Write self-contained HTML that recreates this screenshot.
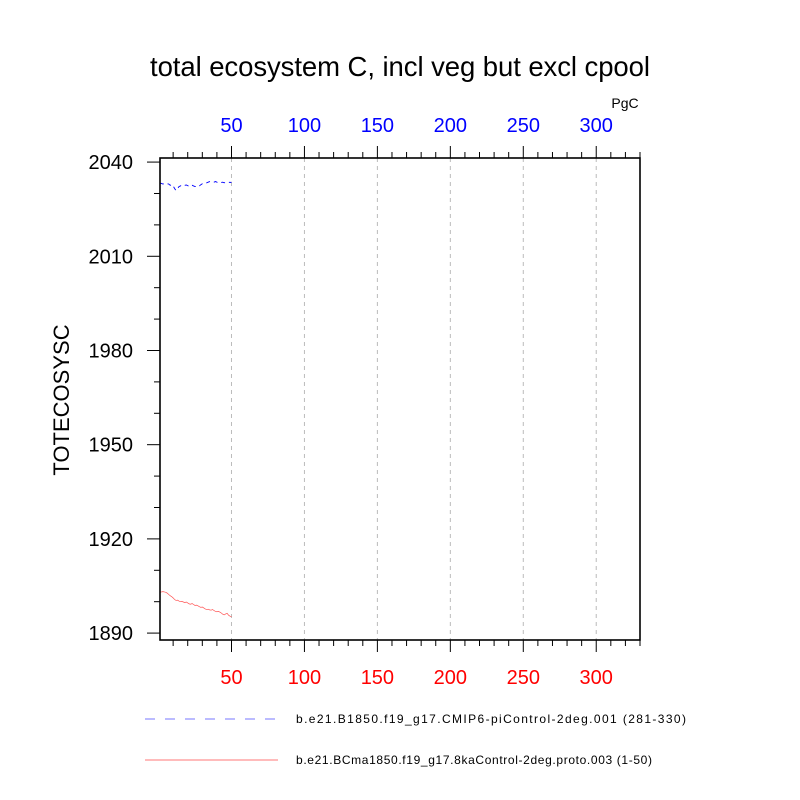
<!DOCTYPE html>
<html><head><meta charset="utf-8"><style>
html,body{margin:0;padding:0;background:#fff;}
svg{display:block;font-family:"Liberation Sans",sans-serif;}
</style></head><body>
<svg id="chart" width="800" height="800" viewBox="0 0 800 800">
<text x="400" y="76" text-anchor="middle" font-size="27.5" textLength="500">total ecosystem C, incl veg but excl cpool</text>
<text x="625" y="108" text-anchor="middle" font-size="14">PgC</text>
<text transform="translate(69,400) rotate(-90)" text-anchor="middle" font-size="22">TOTECOSYSC</text>
<g id="grid"></g><g id="axes"></g><g id="series"></g>
<rect x="160" y="158" width="480" height="482" fill="none" stroke="#000" stroke-width="1.6"/>
<line x1="145" y1="719" x2="278" y2="719" stroke="#77f" stroke-width="1" stroke-dasharray="10,10"/>
<text x="296" y="723" font-size="12" textLength="390">b.e21.B1850.f19_g17.CMIP6-piControl-2deg.001 (281-330)</text>
<line x1="145" y1="760" x2="278" y2="760" stroke="#f77" stroke-width="1"/>
<text x="296" y="764" font-size="12" textLength="356">b.e21.BCma1850.f19_g17.8kaControl-2deg.proto.003 (1-50)</text>
</svg>
<script>
const xTicks=[50,100,150,200,250,300];
const yTicks=[1890,1920,1950,1980,2010,2040];
const blueVals=[2033.3,2033.2,2033.0,2033.1,2032.9,2033.1,2033.0,2032.6,2032.9,2032.4,2031.6,2030.9,2031.5,2032.2,2032.4,2032.7,2032.8,2032.6,2032.7,2032.5,2032.2,2032.3,2032.6,2032.4,2032.2,2032.3,2032.1,2032.4,2032.8,2033.1,2033.4,2033.3,2033.4,2033.6,2033.8,2033.7,2033.5,2033.6,2033.8,2033.6,2033.5,2033.3,2033.5,2033.6,2033.4,2033.5,2033.7,2033.6,2033.5,2033.6];
const redVals=[1903.0,1903.1,1903.2,1903.1,1903.0,1902.7,1902.3,1901.9,1901.6,1901.2,1900.7,1900.4,1900.5,1900.2,1900.0,1900.1,1899.9,1899.7,1899.9,1899.6,1899.3,1899.2,1899.4,1899.1,1898.8,1898.9,1898.7,1898.4,1898.2,1898.3,1898.0,1897.7,1897.5,1897.6,1897.4,1897.3,1897.5,1897.2,1896.9,1896.8,1896.9,1896.7,1896.4,1896.0,1895.8,1896.1,1896.3,1895.7,1895.4,1895.2];
const X0=160,X1=640,Y0=640,Y1=158,XMIN=1,XMAX=330,YMIN=1887.8,YMAX=2041.3;
const sx=v=>X0+(v-XMIN)/(XMAX-XMIN)*(X1-X0);
const sy=v=>Y0-(v-YMIN)/(YMAX-YMIN)*(Y0-Y1);
const NS="http://www.w3.org/2000/svg";
function mk(t,a,p){const e=document.createElementNS(NS,t);for(const k in a)e.setAttribute(k,a[k]);p.appendChild(e);return e;}
const grid=document.getElementById('grid'),axes=document.getElementById('axes'),series=document.getElementById('series');
xTicks.forEach(v=>{
 const x=sx(v);
 const g=mk('line',{x1:x,y1:Y1,x2:x,y2:Y0,stroke:'#bbb','stroke-width':1,'stroke-dasharray':'4,4'},grid);
 
 
 const tt=mk('text',{x:x,y:132,'text-anchor':'middle','font-size':20,fill:'#00f'},axes);tt.textContent=v;
 
 
 const tb=mk('text',{x:x,y:684,'text-anchor':'middle','font-size':20,fill:'#f00'},axes);tb.textContent=v;
 
 
});
for(let v=10;v<=330;v+=10){
 const x=sx(v),maj=v%50===0,L=maj?12:6;
 const a=mk('line',{x1:x,y1:Y1,x2:x,y2:Y1-L,stroke:'#000','stroke-width':1},axes);
 
 
 const b=mk('line',{x1:x,y1:Y0,x2:x,y2:Y0+L,stroke:'#000','stroke-width':1},axes);
 
 
}
yTicks.forEach(v=>{
 const t=mk('text',{x:133,y:sy(v)+7,'text-anchor':'end','font-size':20},axes);t.textContent=v;
 
 
});
for(let v=1890;v<=2040;v+=10){
 const y=sy(v),maj=(v-1890)%30===0,L=maj?13:6;
 const a=mk('line',{x1:X0,y1:y,x2:X0-L,y2:y,stroke:'#000','stroke-width':1},axes);
 
 
}
const pb=blueVals.map((v,i)=>sx(i+1)+','+sy(v)).join(' ');
const bl=mk('polyline',{points:pb,fill:'none',stroke:'#00f','stroke-width':0.9,'stroke-dasharray':'4,4'},series);


const pr=redVals.map((v,i)=>sx(i+1)+','+sy(v)).join(' ');
const rl=mk('polyline',{points:pr,fill:'none',stroke:'#f55','stroke-width':0.7},series);


</script>
</body></html>
